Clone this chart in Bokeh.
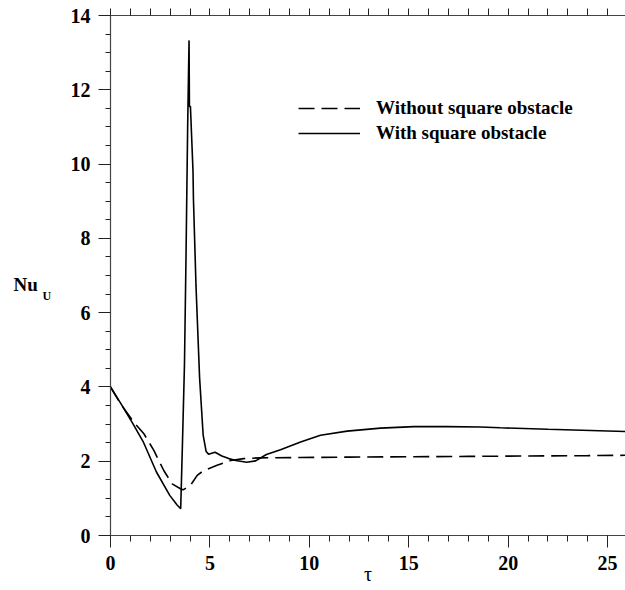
from bokeh.plotting import figure
from bokeh.layouts import row
from bokeh.models import (Range1d, LinearAxis, SingleIntervalTicker, Legend, LegendItem,
                          Label, CustomJSTickFormatter)
from bokeh.embed import file_html
from bokeh.resources import INLINE

# ---- data ----
tau_without = [0, 0.5, 1.17, 1.68, 2.18, 2.68, 3.1, 3.52, 3.65, 4.02, 4.36, 4.69, 5.36,
               6.04, 6.7, 7.5, 9.56, 12, 15, 18, 21, 24, 26]
nu_without = [4.0, 3.55, 3.05, 2.74, 2.29, 1.75, 1.39, 1.26, 1.23, 1.35, 1.62, 1.75, 1.89,
              2.02, 2.07, 2.09, 2.10, 2.11, 2.12, 2.13, 2.14, 2.15, 2.16]

tau_with = [0, 0.5, 1.14, 1.64, 2.31, 2.98, 3.35, 3.53, 3.62, 3.72, 3.8, 3.88, 3.95,
            3.97, 4.02, 4.15, 4.17, 4.3, 4.48, 4.66, 4.81, 4.93, 5.26, 5.6, 5.95, 6.3,
            6.85, 7.3, 7.84, 8.55, 9.56, 10.56, 11.9, 13.58, 15.26, 16.9, 18.6, 19.6,
            22, 26]
nu_with = [4.0, 3.57, 3.0, 2.53, 1.71, 1.08, 0.82, 0.72, 2.5, 4.6, 7.6, 11.0, 13.33,
           11.55, 11.55, 9.8, 9.08, 6.72, 4.25, 2.7, 2.26, 2.19, 2.24, 2.14, 2.07, 2.02,
           1.97, 2.01, 2.18, 2.31, 2.52, 2.70, 2.81, 2.89, 2.93, 2.93, 2.92, 2.90,
           2.86, 2.80]

series_names = ["Without square obstacle", "With square obstacle"]
x_title = "τ"
y_title = "Nu"
y_title_sub = "U"

FONT = "Liberation Serif"
LEFT_W = 60
FRAME_BOTTOM = 535  # the strip's frame is aligned with the main frame (15..535)

# ---- narrow strip holding the y-axis title (Nu with subscript U) ----
t = figure(width=LEFT_W, height=590, output_backend="svg", toolbar_location=None,
           x_range=Range1d(0, LEFT_W), y_range=Range1d(0, 520),
           x_axis_type=None, y_axis_type=None, min_border=0)
t.outline_line_color = None
t.xgrid.visible = False
t.ygrid.visible = False
t.border_fill_color = "white"
t.background_fill_color = "white"
t.add_layout(Label(x=13, y=FRAME_BOTTOM - 284, x_units="screen", y_units="screen",
                   text=y_title, text_font=FONT, text_font_style="bold",
                   text_font_size="19px", text_baseline="alphabetic", text_align="left",
                   text_color="black"))
t.add_layout(Label(x=42, y=FRAME_BOTTOM - 295, x_units="screen", y_units="screen",
                   text=y_title_sub, text_font=FONT, text_font_style="bold",
                   text_font_size="12px", text_baseline="alphabetic", text_align="left",
                   text_color="black"))

# ---- main chart ----
p = figure(width=625 - LEFT_W, height=590, output_backend="svg", toolbar_location=None,
           x_range=Range1d(0, 25.9), y_range=Range1d(0, 14),
           x_axis_type=None, y_axis_type=None,
           min_border_left=110 - LEFT_W, min_border_right=0, min_border_top=15,
           min_border_bottom=55)
p.outline_line_color = None
p.xgrid.visible = False
p.ygrid.visible = False
p.background_fill_color = "white"
p.border_fill_color = "white"

xb = LinearAxis(ticker=SingleIntervalTicker(interval=5, num_minor_ticks=5))
yl = LinearAxis(ticker=SingleIntervalTicker(interval=2, num_minor_ticks=4))
for ax in (xb, yl):
    ax.axis_line_color = "#444444"
    ax.axis_line_width = 1.2
    ax.major_tick_line_color = "#222222"
    ax.minor_tick_line_color = "#222222"
    ax.major_tick_out = 12
    ax.major_tick_in = 0
    ax.minor_tick_out = 6
    ax.minor_tick_in = 0
    ax.major_label_text_font = FONT
    ax.major_label_text_font_style = "bold"
    ax.major_label_text_font_size = "20px"
    ax.major_label_text_color = "black"
    ax.major_label_standoff = 8
yl.minor_tick_out = 5
xb.axis_label = x_title
xb.axis_label_text_font = FONT
xb.axis_label_text_font_style = "normal"
xb.axis_label_text_font_size = "20px"
xb.axis_label_text_color = "black"
xb.axis_label_standoff = -10
p.add_layout(xb, "below")
p.add_layout(yl, "left")

# top axis: ticks every unit, no labels
xt = LinearAxis(ticker=SingleIntervalTicker(interval=1, num_minor_ticks=0),
                formatter=CustomJSTickFormatter(code="return ''"))
xt.axis_line_color = "#444444"
xt.axis_line_width = 1.2
xt.major_tick_line_color = "#222222"
xt.major_tick_out = 7
xt.major_tick_in = 0
xt.minor_tick_line_color = None
xt.major_label_standoff = 0
p.add_layout(xt, "above")

r_dash = p.line(tau_without, nu_without, line_color="black", line_width=1.6,
                line_dash="16 7")
r_solid = p.line(tau_with, nu_with, line_color="black", line_width=1.6)

legend = Legend(items=[LegendItem(label=series_names[0], renderers=[r_dash]),
                       LegendItem(label=series_names[1], renderers=[r_solid])],
                location=(188, 391), orientation="vertical",
                glyph_width=62, glyph_height=20, label_height=20, spacing=3,
                padding=0, margin=0, label_standoff=16,
                label_text_font=FONT, label_text_font_style="bold",
                label_text_font_size="19px", label_text_color="black",
                border_line_color=None, background_fill_alpha=0)
p.add_layout(legend, "center")

layout = row(t, p, spacing=0)
open("out.html", "w").write(file_html(layout, INLINE))
